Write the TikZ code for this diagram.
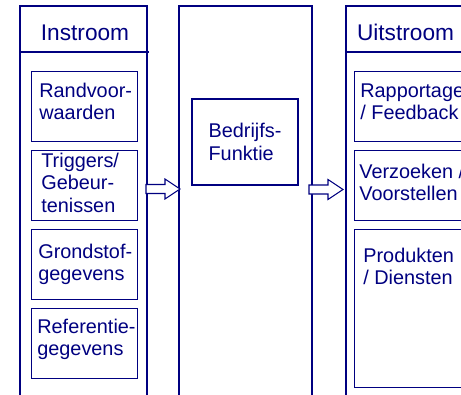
\documentclass[tikz,border=0pt]{standalone}
\usepackage{fontspec}
\setmainfont{Liberation Sans}
\usepackage{xcolor}
\usepackage{tikz}
\usetikzlibrary{positioning, calc}

\definecolor{navy}{RGB}{0,0,128}

\begin{document}
\begin{tikzpicture}[
        column/.style={draw=navy, line width=0.7pt},
        item/.style={draw=navy, line width=0.6pt, minimum width=2.12cm, minimum height=1.40cm, anchor=north west, inner sep=0pt},
        itemtxt/.style={text=navy, align=left, inner sep=0pt, anchor=base west, font=\fontsize{11.3}{12.7}\selectfont},
        head/.style={text=navy, inner sep=0pt, anchor=base, font=\fontsize{12.9}{15}\selectfont},
        blockarr/.style={draw=navy, line width=0.6pt, fill=white}
    ]

        \def\blockarrow{(0,-0.09) -- (0.38,-0.09) -- (0.38,-0.2) -- (0.68,0) -- (0.38,0.2) -- (0.38,0.09) -- (0,0.09) -- cycle}

        \clip (0,0) rectangle (9.22,7.88);

        % columns
        \draw[column] (0.40,-0.2) rectangle (2.94,7.76);
        \draw[column] (0.40,6.84) -- (2.98,6.84);
        \draw[column] (3.58,-0.2) rectangle (6.24,7.76);
        \draw[column] (6.92,-0.2) rectangle (9.60,7.76);
        \draw[column] (6.90,6.84) -- (9.60,6.84);

        \node[head] (instroom) at (1.70,7.07) {Instroom};
        \node[head] (uitstroom) at (8.11,7.07) {Uitstroom};

        % instroom (base = last line)
        \node[item] (rand) at (0.62,6.46) {};
        \node[item] (trig) at (0.62,4.88) {};
        \node[item] (grond) at (0.62,3.30) {};
        \node[item] (ref) at (0.62,1.72) {};

        \node[itemtxt] (randtxt) at ($(rand.north west)+(0.16,-0.97)$) {Randvoor-\\waarden};
        \node[itemtxt] (trigtxt) at ($(trig.north west)+(0.20,-1.24)$) {Triggers/\\Gebeur-\\tenissen};
        \node[itemtxt] (grondtxt) at ($(grond.north west)+(0.14,-1.03)$) {Grondstof-\\gegevens};
        \node[itemtxt] (reftxt) at ($(ref.north west)+(0.12,-0.95)$) {Referentie-\\gegevens};

        % bedrijfsfunctie
        \node[draw=navy, line width=0.6pt, minimum width=2.12cm, minimum height=1.72cm, text=navy, align=left,
              font=\fontsize{11.3}{12.7}\selectfont] (bedrijf) at (4.90,5.04) {Bedrijfs-\\Funktie};

        % uitstroom
        \node[item, minimum width=2.4cm] (rapp) at (7.08,6.46) {};
        \node[item, minimum width=2.4cm] (verz) at (7.08,4.88) {};
        \node[item, minimum width=2.4cm, minimum height=3.16cm] (prod) at (7.08,3.30) {};

        \node[itemtxt] (rapptxt) at ($(rapp.north west)+(0.12,-0.97)$) {Rapportage\\/ Feedback};
        \node[itemtxt] (verztxt) at ($(verz.north west)+(0.10,-1.01)$) {Verzoeken /\\Voorstellen};
        \node[itemtxt] (prodtxt) at ($(prod.north west)+(0.18,-1.11)$) {Produkten\\/ Diensten};

        % pijlen
        \draw[blockarr, shift={(2.92,4.10)}] \blockarrow;
        \draw[blockarr, shift={(6.18,4.09)}] \blockarrow;
\end{tikzpicture}
\end{document}
